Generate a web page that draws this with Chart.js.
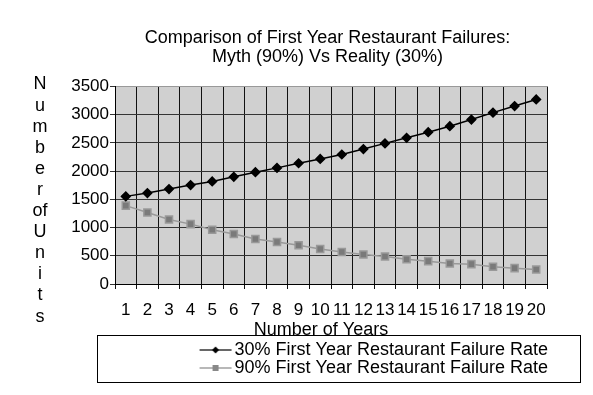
<!DOCTYPE html>
<html>
<head>
<meta charset="utf-8">
<script src="https://cdn.jsdelivr.net/npm/chart.js@4.4.1/dist/chart.umd.min.js"></script>
<style>
  html, body { margin: 0; padding: 0; background: #fff; }
</style>
</head>
<body>
<canvas id="lineChart" width="593" height="395"></canvas>
<script>
// Data
const years = ['1','2','3','4','5','6','7','8','9','10','11','12','13','14','15','16','17','18','19','20'];
const realityUnits = [1553, 1612, 1683, 1753, 1817, 1899, 1982, 2058, 2140, 2216,
                      2295, 2392, 2492, 2591, 2691, 2797, 2914, 3037, 3154, 3271];
const mythUnits = [1389, 1266, 1143, 1061, 962, 885, 797, 744, 686, 621,
                   568, 522, 487, 440, 405, 364, 352, 305, 281, 258];
const yTicks = [0, 500, 1000, 1500, 2000, 2500, 3000, 3500];
const titleLines = ['Comparison of First Year Restaurant Failures:', 'Myth (90%) Vs Reality (30%)'];
const yTitleParts = ['N','u','m','b','e','r','of','U','n','i','t','s'];

const FONT = '"Liberation Sans", Arial, Helvetica, sans-serif';

// Small line + marker picture used as legend symbol
function legendSample(color, diamond) {
  const c = document.createElement('canvas');
  c.width = 40; c.height = 12;
  const g = c.getContext('2d');
  g.strokeStyle = color;
  g.lineWidth = 1.2;
  g.beginPath(); g.moveTo(7, 6); g.lineTo(39, 6); g.stroke();
  g.fillStyle = color;
  g.beginPath();
  if (diamond) {
    g.moveTo(23, 2.5); g.lineTo(26.5, 6); g.lineTo(23, 9.5); g.lineTo(19.5, 6);
  } else {
    g.rect(20, 3, 6, 6);
  }
  g.fill();
  return c;
}

// Plot background, stacked y title and legend frame
const decorations = {
  id: 'decorations',
  beforeDraw(chart) {
    const {ctx, chartArea: a} = chart;
    ctx.save();
    ctx.fillStyle = '#d0d0d0';
    ctx.fillRect(a.left, a.top, a.right - a.left, a.bottom - a.top);
    ctx.restore();
  },
  afterDraw(chart) {
    const {ctx, chartArea: a, legend} = chart;
    ctx.save();
    ctx.font = '18px ' + FONT;
    ctx.fillStyle = '#000';
    ctx.textAlign = 'center';
    ctx.textBaseline = 'middle';
    yTitleParts.forEach((t, i) => ctx.fillText(t, a.left - 75, a.top - 2 + i * 21.1));
    ctx.strokeStyle = '#000';
    ctx.lineWidth = 1;
    const x0 = a.left - 17.5;
    ctx.strokeRect(x0, legend.top - 5.5, chart.width - 12.5 - x0, 47);
    ctx.restore();
  }
};

const ctx = document.getElementById('lineChart').getContext('2d');

new Chart(ctx, {
  type: 'line',
  data: {
    labels: years,
    datasets: [{
      label: '30% First Year Restaurant Failure Rate         ',
      data: realityUnits,
      borderColor: '#000',
      backgroundColor: '#000',
      borderWidth: 1.5,
      pointStyle: 'rectRot',
      pointRadius: 4.3,
      pointHoverRadius: 4.3,
      legendImg: legendSample('#000', true),
    }, {
      label: '90% First Year Restaurant Failure Rate         ',
      data: mythUnits,
      borderColor: '#999999',
      backgroundColor: '#7a7a7a',
      borderWidth: 1.5,
      pointStyle: 'rect',
      pointRadius: 5,
      pointHoverRadius: 5,
      legendImg: legendSample('#888888', false),
    }]
  },
  options: {
    responsive: false,
    animation: false,
    layout: { padding: { left: 62, right: 0, top: 0, bottom: 8 } },
    plugins: {
      title: {
        display: true,
        text: titleLines,
        color: '#000',
        font: { family: FONT, size: 18, weight: 'normal', lineHeight: 1.07 },
        padding: { top: 28, bottom: 20 }
      },
      legend: {
        position: 'bottom',
        align: 'end',
        labels: {
          color: '#000',
          font: { family: FONT, size: 18 },
          usePointStyle: true,
          pointStyleWidth: 26,
          padding: 0,
          generateLabels(chart) {
            const items = Chart.defaults.plugins.legend.labels.generateLabels(chart);
            items.forEach(it => { it.pointStyle = chart.data.datasets[it.datasetIndex].legendImg; });
            return items;
          }
        }
      },
      tooltip: { enabled: false }
    },
    scales: {
      x: {
        offset: true,
        grid: {
          offset: true,
          color: c => (c.index === years.length ? '#999' : '#111'),
          lineWidth: 1, tickLength: 5, tickColor: '#111'
        },
        border: { color: '#000', width: 1 },
        ticks: { color: '#000', font: { family: FONT, size: 17 }, autoSkip: false, maxRotation: 0, padding: 11 },
        title: {
          display: true,
          text: 'Number of Years    ',
          color: '#000',
          font: { family: FONT, size: 18 },
          padding: { top: 0, bottom: 0 }
        },
        afterFit(s) { s.height = 57; }
      },
      y: {
        min: 0,
        max: 3500,
        afterBuildTicks(s) { s.ticks = yTicks.map(v => ({ value: v })); },
        grid: {
          color: c => (c.tick && c.tick.value === 3500 ? '#999' : '#333'),
          lineWidth: 1, tickLength: 5, tickColor: '#333'
        },
        border: { color: '#000', width: 1 },
        ticks: { color: '#000', font: { family: FONT, size: 17 }, padding: 1, callback: v => String(v) },
        afterFit(s) { s.width = 53; }
      },
      yRight: {
        position: 'right',
        display: true,
        grid: { display: false },
        ticks: { display: false },
        border: { display: false },
        afterFit(s) { s.width = 46; }
      }
    }
  },
  plugins: [decorations]
});
</script>
</body>
</html>
